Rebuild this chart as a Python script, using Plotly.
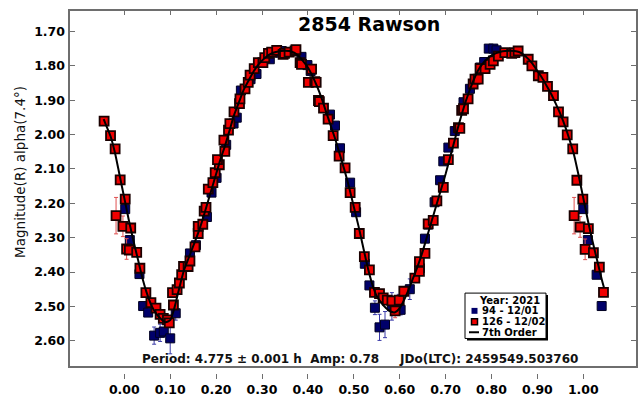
import plotly.graph_objects as go

# ---------------- data ----------------
red_phase = [-0.044, -0.030, -0.020, -0.009, 0.002, -0.018, -0.003, 0.014, 0.005, 0.011,
             0.027, 0.034, 0.047, 0.058, 0.069, 0.078, 0.085, 0.094, 0.098, 0.107,
             0.105, 0.115, 0.120, 0.125, 0.129, 0.139, 0.143, 0.154, 0.161, 0.161,
             0.171, 0.174, 0.178, 0.183, 0.193, 0.198, 0.207, 0.203, 0.219, 0.217,
             0.227, 0.230, 0.239, 0.251, 0.252, 0.263, 0.270, 0.274, 0.283, 0.292,
             0.302, 0.306, 0.314, 0.321, 0.332, 0.346, 0.349, 0.359, 0.372, 0.374,
             0.383, 0.386, 0.401, 0.408, 0.415, 0.418, 0.423, 0.425, 0.434, 0.444,
             0.455, 0.468, 0.481, 0.492, 0.503, 0.512, 0.523, 0.534, 0.545, 0.556,
             0.564, 0.573, 0.583, 0.590, 0.599, 0.609, 0.633, 0.643, 0.643, 0.655,
             0.662, 0.673, 0.681, 0.695, 0.706, 0.717, 0.728, 0.731, 0.735, 0.739,
             0.749, 0.760, 0.764, 0.771, 0.775, 0.786, 0.797, 0.804, 0.815, 0.829,
             0.844, 0.851, 0.858, 0.880, 0.888, 0.902, 0.912, 0.922, 0.935, 0.946,
             0.956, 0.965, 0.977, 0.986, 0.999, 0.980, 0.993, 1.011, 1.004, 1.022,
             1.035, 1.044]
red_mag = [1.961, 2.003, 2.042, 2.132, 2.188, 2.236, 2.267, 2.272, 2.333, 2.336,
           2.343, 2.389, 2.460, 2.489, 2.505, 2.523, 2.535, 2.539, 2.548, 2.496,
           2.460, 2.451, 2.432, 2.408, 2.384, 2.384, 2.368, 2.327, 2.288, 2.267,
           2.261, 2.223, 2.212, 2.159, 2.140, 2.111, 2.088, 2.073, 2.049, 2.016,
           1.987, 1.968, 1.934, 1.910, 1.896, 1.867, 1.848, 1.827, 1.808, 1.791,
           1.791, 1.776, 1.764, 1.760, 1.755, 1.767, 1.764, 1.760, 1.757, 1.753,
           1.791, 1.796, 1.848, 1.810, 1.846, 1.848, 1.901, 1.904, 1.923, 1.955,
           2.003, 2.063, 2.097, 2.169, 2.212, 2.288, 2.355, 2.394, 2.459, 2.463,
           2.475, 2.482, 2.484, 2.513, 2.482, 2.456, 2.418, 2.398, 2.370, 2.346,
           2.260, 2.250, 2.193, 2.154, 2.073, 2.025, 1.980, 1.982, 1.930, 1.925,
           1.896, 1.853, 1.839, 1.839, 1.808, 1.808, 1.796, 1.786, 1.772, 1.762,
           1.764, 1.762, 1.757, 1.781, 1.800, 1.829, 1.834, 1.860, 1.887, 1.934,
           1.963, 2.001, 2.042, 2.133, 2.188, 2.236, 2.269, 2.274, 2.334, 2.344,
           2.386, 2.459]
red_err = [0.006] * 5 + [0.053, 0.030, 0.006, 0.030] + [0.006] * 74 + [0.020] + [0.006] * 41 + \
          [0.053, 0.030, 0.006, 0.030, 0.006, 0.006, 0.006]

navy_phase = [0.002, 0.012, 0.033, 0.041, 0.052, 0.065, 0.078, 0.086, 0.100, 0.112,
              0.143, 0.156, 0.180, 0.190, 0.201, 0.222, 0.238, 0.245, 0.254, 0.275,
              0.288, 0.317, 0.339, 0.343, 0.386, 0.399, 0.406, 0.448, 0.459, 0.470,
              0.492, 0.505, 0.524, 0.534, 0.546, 0.556, 0.568, 0.583, 0.598, 0.602,
              0.622, 0.644, 0.655, 0.662, 0.676, 0.688, 0.695, 0.706, 0.720, 0.739,
              0.753, 0.775, 0.784, 0.794, 0.804, 0.811, 1.000, 1.010, 1.029, 1.040]
navy_mag = [2.217, 2.307, 2.406, 2.499, 2.518, 2.585, 2.577, 2.573, 2.593, 2.520,
            2.346, 2.322, 2.240, 2.169, 2.126, 2.030, 1.968, 1.951, 1.872, 1.839,
            1.824, 1.781, 1.762, 1.757, 1.774, 1.798, 1.815, 1.942, 1.974, 2.040,
            2.140, 2.226, 2.376, 2.439, 2.504, 2.561, 2.553, 2.500, 2.490, 2.510,
            2.450, 2.389, 2.303, 2.262, 2.197, 2.133, 2.078, 2.038, 1.990, 1.906,
            1.867, 1.805, 1.789, 1.750, 1.750, 1.755, 2.217, 2.307, 2.408, 2.499]
navy_err = [0.006] * 5 + [0.025, 0.025, 0.010, 0.045, 0.020] + [0.006] * 24 + \
           [0.020, 0.038, 0.038, 0.040, 0.025, 0.015, 0.030] + [0.006] * 22 + [0.015]

fit_phase = [-0.045, -0.04, -0.03, -0.02, -0.01, 0.00, 0.01, 0.02, 0.03, 0.04, 0.05, 0.06,
             0.07, 0.08, 0.09, 0.10, 0.11, 0.12, 0.13, 0.14, 0.15, 0.16, 0.17, 0.18,
             0.19, 0.20, 0.21, 0.22, 0.23, 0.24, 0.25, 0.26, 0.27, 0.28, 0.29, 0.30,
             0.31, 0.32, 0.33, 0.34, 0.35, 0.36, 0.37, 0.38, 0.39, 0.40, 0.41, 0.42,
             0.43, 0.44, 0.45, 0.46, 0.47, 0.48, 0.49, 0.50, 0.51, 0.52, 0.53, 0.54,
             0.55, 0.56, 0.57, 0.58, 0.59, 0.60, 0.61, 0.62, 0.63, 0.64, 0.65, 0.66,
             0.67, 0.68, 0.69, 0.70, 0.71, 0.72, 0.73, 0.74, 0.75, 0.76, 0.77, 0.78,
             0.79, 0.80, 0.81, 0.82, 0.83, 0.84, 0.85, 0.86, 0.87, 0.88, 0.89, 0.90,
             0.91, 0.92, 0.93, 0.94, 0.95, 0.96, 0.97, 0.98, 0.99, 1.00, 1.01, 1.02,
             1.03, 1.04, 1.045]
fit_mag = [1.955, 1.972, 2.005, 2.055, 2.120, 2.185, 2.250, 2.310, 2.365, 2.420, 2.465, 2.500,
           2.522, 2.537, 2.546, 2.540, 2.500, 2.445, 2.395, 2.360, 2.325, 2.290, 2.250, 2.205,
           2.160, 2.115, 2.070, 2.030, 1.985, 1.940, 1.905, 1.870, 1.845, 1.820, 1.800, 1.785,
           1.773, 1.765, 1.760, 1.757, 1.756, 1.757, 1.762, 1.772, 1.787, 1.805, 1.830, 1.860,
           1.895, 1.935, 1.975, 2.015, 2.060, 2.105, 2.155, 2.210, 2.265, 2.325, 2.385, 2.435,
           2.470, 2.490, 2.505, 2.515, 2.517, 2.505, 2.480, 2.450, 2.415, 2.380, 2.340, 2.295,
           2.250, 2.205, 2.160, 2.115, 2.065, 2.015, 1.965, 1.920, 1.880, 1.845, 1.815, 1.795,
           1.780, 1.770, 1.763, 1.759, 1.757, 1.756, 1.757, 1.760, 1.768, 1.780, 1.795, 1.815,
           1.835, 1.858, 1.882, 1.910, 1.940, 1.975, 2.015, 2.060, 2.120, 2.185, 2.250, 2.310,
           2.365, 2.420, 2.445]

x_ticks = [0.0, 0.1, 0.2, 0.3, 0.4, 0.5, 0.6, 0.7, 0.8, 0.9, 1.0]
x_ticklabels = ["0.00", "0.10", "0.20", "0.30", "0.40", "0.50", "0.60", "0.70", "0.80", "0.90", "1.00"]
y_ticks = [1.7, 1.8, 1.9, 2.0, 2.1, 2.2, 2.3, 2.4, 2.5, 2.6]
y_ticklabels = ["1.70", "1.80", "1.90", "2.00", "2.10", "2.20", "2.30", "2.40", "2.50", "2.60"]

title_text = "2854 Rawson"
y_title = "Magnitude(R) alpha(7.4°)"
info_text = "Period: 4.775 ± 0.001 h\u00a0\u00a0Amp: 0.78\u00a0\u00a0\u00a0\u00a0\u00a0JDo(LTC): 2459549.503760"
legend_title = "Year: 2021"
navy_name = "94 - 12/01"
red_name = "126 - 12/02"
fit_name = "7th Order"

# ---------------- styling ----------------
X_RANGE = [-0.1205, 1.117]
Y_RANGE = [2.6766, 1.6377]
FRAME = "#6e6e6e"
NAVY = "#00006a"
RED = "#f00000"
BOLD = "DejaVu Sans"

fig = go.Figure()

fig.add_trace(go.Scatter(
    x=navy_phase, y=navy_mag, mode="markers", name=navy_name, showlegend=False,
    marker=dict(symbol="square", size=9, color=NAVY, line=dict(color="#000020", width=1)),
    error_y=dict(type="data", array=navy_err, color="#3a3aa8", thickness=1, width=2),
))
fig.add_trace(go.Scatter(
    x=red_phase, y=red_mag, mode="markers", name=red_name, showlegend=False,
    marker=dict(symbol="square", size=9, color=RED, line=dict(color="#1a0000", width=1.8)),
    error_y=dict(type="data", array=red_err, color="#e05050", thickness=1, width=2),
))
fig.add_trace(go.Scatter(
    x=fit_phase, y=fit_mag, mode="lines", name=fit_name, showlegend=False,
    line=dict(color="black", width=2, shape="spline", smoothing=0.6),
))

tickfont = dict(family=BOLD, size=12.5, color="black", weight="bold")

fig.update_layout(
    width=638, height=398,
    margin=dict(l=69, r=1, t=10, b=20),
    paper_bgcolor="white", plot_bgcolor="white",
    showlegend=False,
    xaxis=dict(range=X_RANGE, tickvals=x_ticks, ticktext=x_ticklabels, ticks="outside",
               ticklen=5, tickcolor=FRAME, tickwidth=1, showline=False, showgrid=False,
               zeroline=False, anchor="free", position=0, tickfont=tickfont),
    xaxis2=dict(range=X_RANGE, tickvals=x_ticks, showticklabels=False, ticks="inside",
                ticklen=5, tickcolor=FRAME, tickwidth=1, showline=False, showgrid=False,
                zeroline=False, overlaying="x", side="top", anchor="y"),
    yaxis=dict(range=Y_RANGE, domain=[6 / 368, 1], tickvals=y_ticks, ticktext=y_ticklabels,
               ticks="inside", ticklen=6, tickcolor=FRAME, tickwidth=1, mirror="ticks",
               showline=False, showgrid=False, zeroline=False, tickfont=tickfont,
               ticklabelstandoff=3),
)
# an invisible trace so xaxis2 is drawn
fig.add_trace(go.Scatter(x=[], y=[], xaxis="x2", yaxis="y", showlegend=False))

# frame
fig.add_shape(type="rect", xref="x domain", yref="y domain", x0=0, x1=1, y0=0, y1=1,
              line=dict(color=FRAME, width=2), layer="above")

# title
fig.add_annotation(text=title_text, xref="x domain", yref="y domain", x=0.529, y=0.961,
                   showarrow=False, font=dict(family=BOLD, size=19, color="black", weight="bold"),
                   xanchor="center", yanchor="middle")
# y axis title
fig.add_annotation(text=y_title, xref="paper", yref="y domain", x=-0.086, y=0.547,
                   showarrow=False, textangle=-90,
                   font=dict(family="DejaVu Sans", size=13.5, color="#111111"),
                   xanchor="center", yanchor="middle")
# period info
fig.add_annotation(text=info_text, xref="x domain", yref="y domain", x=0.512, y=0.024,
                   showarrow=False, font=dict(family=BOLD, size=12, color="#111111", weight="bold"),
                   xanchor="center", yanchor="middle")

# ---- manual legend (box, swatches and labels) ----
def dx(px):
    return (px - 69) / 568.0


def dy(py):
    return (372 - py) / 362.0


fig.add_shape(type="rect", xref="x domain", yref="y domain", x0=dx(467), x1=dx(548),
              y0=dy(345), y1=dy(299), line=dict(width=0), fillcolor="black")
fig.add_shape(type="rect", xref="x domain", yref="y domain", x0=dx(465), x1=dx(546),
              y0=dy(343), y1=dy(297), line=dict(color="black", width=1), fillcolor="white")
fig.add_shape(type="rect", xref="x domain", yref="y domain", x0=dx(471.5), x1=dx(477.5),
              y0=dy(318), y1=dy(312), line=dict(width=0), fillcolor=NAVY)
fig.add_shape(type="rect", xref="x domain", yref="y domain", x0=dx(471.5), x1=dx(477.5),
              y0=dy(329), y1=dy(323), line=dict(color="black", width=1.5), fillcolor=RED)
fig.add_shape(type="line", xref="x domain", yref="y domain", x0=dx(469), x1=dx(479),
              y0=dy(336.7), y1=dy(336.7), line=dict(color="black", width=2))
legfont = dict(family=BOLD, size=10, color="black", weight="bold")
fig.add_annotation(text=legend_title, xref="x domain", yref="y domain", x=dx(542), y=dy(304),
                   showarrow=False, font=legfont, xanchor="right", yanchor="middle")
for label, py in [(navy_name, 315), (red_name, 325.7), (fit_name, 336.7)]:
    fig.add_annotation(text=label, xref="x domain", yref="y domain", x=dx(480), y=dy(py),
                       showarrow=False, font=legfont, xanchor="left", yanchor="middle")

fig.write_html("out.html")
